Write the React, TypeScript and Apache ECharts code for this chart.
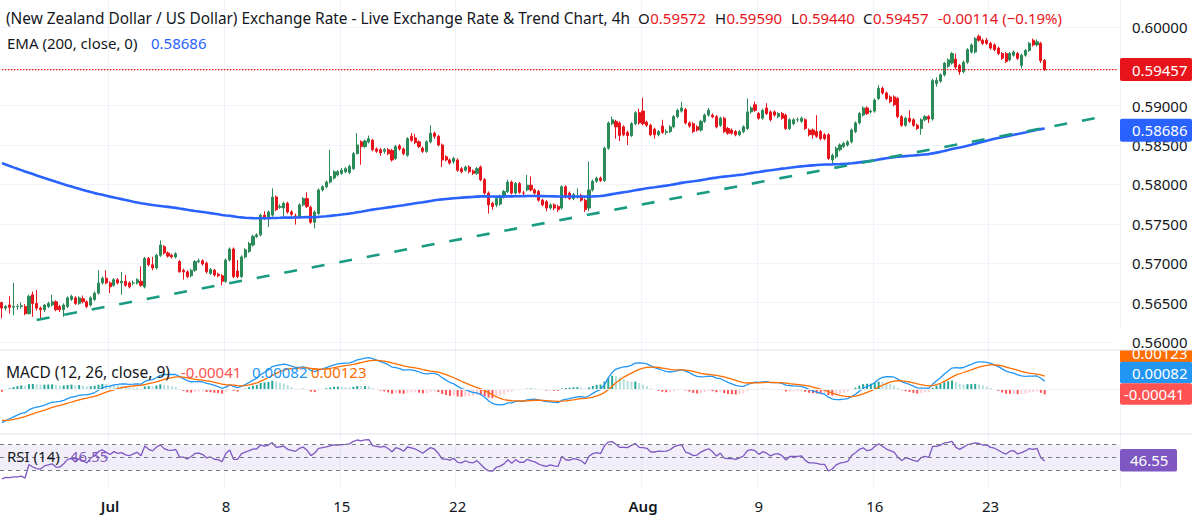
import React, { useEffect, useRef } from "react";
import * as echarts from "echarts";

// 4h bars, left to right: [open, high, low, close]
const ohlc: number[][] = [
  [0.5650, 0.5651, 0.5630, 0.5643], [0.5643, 0.5647, 0.5640, 0.5645], [0.5647, 0.5658, 0.5636, 0.5644], [0.5644, 0.5675, 0.5634, 0.5645],
  [0.5645, 0.5648, 0.5641, 0.5645], [0.5645, 0.5650, 0.5642, 0.5646], [0.5645, 0.5648, 0.5634, 0.5636], [0.5636, 0.5660, 0.5635, 0.5658],
  [0.5660, 0.5664, 0.5632, 0.5649], [0.5649, 0.5666, 0.5640, 0.5643], [0.5643, 0.5645, 0.5628, 0.5641], [0.5641, 0.5648, 0.5638, 0.5647],
  [0.5645, 0.5651, 0.5643, 0.5649], [0.5647, 0.5660, 0.5645, 0.5651], [0.5651, 0.5653, 0.5639, 0.5641], [0.5645, 0.5647, 0.5638, 0.5641],
  [0.5641, 0.5649, 0.5632, 0.5647], [0.5645, 0.5658, 0.5643, 0.5656], [0.5654, 0.5660, 0.5652, 0.5658], [0.5656, 0.5658, 0.5647, 0.5649],
  [0.5649, 0.5658, 0.5647, 0.5656], [0.5655, 0.5659, 0.5649, 0.5651], [0.5651, 0.5653, 0.5643, 0.5645], [0.5647, 0.5658, 0.5645, 0.5656],
  [0.5654, 0.5664, 0.5652, 0.5662], [0.5662, 0.5691, 0.5660, 0.5675], [0.5675, 0.5683, 0.5673, 0.5681], [0.5681, 0.5691, 0.5673, 0.5675],
  [0.5675, 0.5677, 0.5662, 0.5670], [0.5672, 0.5681, 0.5670, 0.5679], [0.5679, 0.5681, 0.5673, 0.5675], [0.5675, 0.5689, 0.5660, 0.5677],
  [0.5677, 0.5685, 0.5670, 0.5672], [0.5675, 0.5677, 0.5668, 0.5670], [0.5675, 0.5678, 0.5672, 0.5675], [0.5675, 0.5681, 0.5673, 0.5679],
  [0.5677, 0.5696, 0.5670, 0.5672], [0.5670, 0.5708, 0.5668, 0.5706], [0.5706, 0.5708, 0.5696, 0.5698], [0.5698, 0.5708, 0.5691, 0.5694],
  [0.5694, 0.5712, 0.5692, 0.5710], [0.5710, 0.5729, 0.5708, 0.5723], [0.5721, 0.5723, 0.5711, 0.5713], [0.5713, 0.5715, 0.5707, 0.5709],
  [0.5710, 0.5712, 0.5706, 0.5708], [0.5708, 0.5714, 0.5706, 0.5712], [0.5702, 0.5704, 0.5688, 0.5689], [0.5691, 0.5693, 0.5679, 0.5689],
  [0.5689, 0.5691, 0.5681, 0.5683], [0.5684, 0.5693, 0.5682, 0.5691], [0.5691, 0.5704, 0.5689, 0.5702], [0.5702, 0.5706, 0.5700, 0.5703],
  [0.5703, 0.5705, 0.5697, 0.5699], [0.5700, 0.5702, 0.5687, 0.5689], [0.5687, 0.5694, 0.5685, 0.5692], [0.5691, 0.5693, 0.5683, 0.5685],
  [0.5686, 0.5688, 0.5682, 0.5684], [0.5684, 0.5686, 0.5672, 0.5677], [0.5677, 0.5706, 0.5675, 0.5704], [0.5704, 0.5720, 0.5702, 0.5718],
  [0.5718, 0.5720, 0.5681, 0.5683], [0.5690, 0.5704, 0.5681, 0.5683], [0.5683, 0.5710, 0.5681, 0.5708], [0.5708, 0.5719, 0.5706, 0.5717],
  [0.5715, 0.5727, 0.5713, 0.5725], [0.5723, 0.5736, 0.5721, 0.5734], [0.5734, 0.5738, 0.5732, 0.5736], [0.5736, 0.5763, 0.5734, 0.5761],
  [0.5761, 0.5766, 0.5755, 0.5757], [0.5757, 0.5767, 0.5746, 0.5765], [0.5761, 0.5795, 0.5759, 0.5784], [0.5784, 0.5786, 0.5766, 0.5768],
  [0.5771, 0.5775, 0.5769, 0.5772], [0.5770, 0.5778, 0.5757, 0.5776], [0.5776, 0.5778, 0.5763, 0.5765], [0.5765, 0.5767, 0.5760, 0.5762],
  [0.5760, 0.5763, 0.5749, 0.5759], [0.5759, 0.5776, 0.5757, 0.5774], [0.5774, 0.5784, 0.5772, 0.5782], [0.5782, 0.5790, 0.5770, 0.5772],
  [0.5771, 0.5773, 0.5750, 0.5752], [0.5752, 0.5767, 0.5744, 0.5765], [0.5763, 0.5795, 0.5761, 0.5793], [0.5793, 0.5799, 0.5791, 0.5797],
  [0.5797, 0.5805, 0.5795, 0.5803], [0.5803, 0.5844, 0.5801, 0.5810], [0.5808, 0.5818, 0.5806, 0.5816], [0.5812, 0.5818, 0.5810, 0.5816],
  [0.5814, 0.5821, 0.5812, 0.5818], [0.5816, 0.5822, 0.5814, 0.5820], [0.5815, 0.5825, 0.5813, 0.5823], [0.5820, 0.5841, 0.5818, 0.5839],
  [0.5839, 0.5865, 0.5838, 0.5850], [0.5854, 0.5856, 0.5825, 0.5848], [0.5848, 0.5857, 0.5846, 0.5855], [0.5854, 0.5862, 0.5852, 0.5858],
  [0.5856, 0.5858, 0.5842, 0.5844], [0.5845, 0.5847, 0.5840, 0.5842], [0.5844, 0.5846, 0.5836, 0.5840], [0.5842, 0.5846, 0.5839, 0.5844],
  [0.5844, 0.5846, 0.5837, 0.5839], [0.5843, 0.5845, 0.5829, 0.5831], [0.5833, 0.5850, 0.5831, 0.5848], [0.5849, 0.5851, 0.5843, 0.5845],
  [0.5845, 0.5847, 0.5837, 0.5839], [0.5837, 0.5860, 0.5835, 0.5858], [0.5861, 0.5865, 0.5854, 0.5856], [0.5859, 0.5864, 0.5851, 0.5853],
  [0.5854, 0.5856, 0.5846, 0.5848], [0.5846, 0.5848, 0.5840, 0.5842], [0.5842, 0.5856, 0.5840, 0.5854], [0.5854, 0.5875, 0.5852, 0.5865],
  [0.5865, 0.5867, 0.5858, 0.5861], [0.5861, 0.5863, 0.5848, 0.5850], [0.5850, 0.5852, 0.5822, 0.5831], [0.5835, 0.5837, 0.5829, 0.5831],
  [0.5831, 0.5833, 0.5825, 0.5827], [0.5829, 0.5835, 0.5826, 0.5833], [0.5831, 0.5833, 0.5816, 0.5818], [0.5820, 0.5822, 0.5814, 0.5816],
  [0.5818, 0.5824, 0.5816, 0.5822], [0.5822, 0.5824, 0.5814, 0.5816], [0.5817, 0.5819, 0.5812, 0.5814], [0.5814, 0.5822, 0.5812, 0.5820],
  [0.5822, 0.5824, 0.5804, 0.5806], [0.5806, 0.5808, 0.5787, 0.5789], [0.5789, 0.5791, 0.5763, 0.5774], [0.5776, 0.5778, 0.5768, 0.5772],
  [0.5774, 0.5784, 0.5771, 0.5782], [0.5775, 0.5787, 0.5773, 0.5785], [0.5784, 0.5793, 0.5782, 0.5791], [0.5791, 0.5806, 0.5789, 0.5803],
  [0.5803, 0.5805, 0.5787, 0.5789], [0.5789, 0.5803, 0.5787, 0.5801], [0.5801, 0.5803, 0.5788, 0.5790], [0.5789, 0.5792, 0.5786, 0.5789],
  [0.5793, 0.5812, 0.5791, 0.5799], [0.5799, 0.5810, 0.5791, 0.5793], [0.5793, 0.5795, 0.5787, 0.5789], [0.5791, 0.5793, 0.5778, 0.5780],
  [0.5780, 0.5782, 0.5772, 0.5774], [0.5778, 0.5780, 0.5766, 0.5770], [0.5770, 0.5776, 0.5768, 0.5774], [0.5774, 0.5776, 0.5767, 0.5770],
  [0.5772, 0.5774, 0.5765, 0.5768], [0.5770, 0.5799, 0.5768, 0.5797], [0.5797, 0.5799, 0.5782, 0.5784], [0.5789, 0.5791, 0.5780, 0.5782],
  [0.5782, 0.5789, 0.5780, 0.5787], [0.5784, 0.5795, 0.5782, 0.5785], [0.5786, 0.5788, 0.5778, 0.5780], [0.5780, 0.5782, 0.5765, 0.5768],
  [0.5770, 0.5829, 0.5766, 0.5793], [0.5793, 0.5806, 0.5791, 0.5804], [0.5804, 0.5810, 0.5802, 0.5808], [0.5808, 0.5810, 0.5803, 0.5805],
  [0.5805, 0.5848, 0.5803, 0.5846], [0.5846, 0.5880, 0.5844, 0.5878], [0.5877, 0.5886, 0.5875, 0.5882], [0.5880, 0.5882, 0.5858, 0.5873],
  [0.5878, 0.5880, 0.5855, 0.5862], [0.5873, 0.5875, 0.5861, 0.5863], [0.5866, 0.5868, 0.5850, 0.5862], [0.5862, 0.5879, 0.5860, 0.5877],
  [0.5877, 0.5893, 0.5875, 0.5891], [0.5891, 0.5896, 0.5876, 0.5878], [0.5893, 0.5910, 0.5875, 0.5877], [0.5879, 0.5881, 0.5873, 0.5875],
  [0.5875, 0.5877, 0.5861, 0.5863], [0.5870, 0.5872, 0.5858, 0.5863], [0.5863, 0.5869, 0.5861, 0.5867], [0.5874, 0.5882, 0.5864, 0.5866],
  [0.5866, 0.5870, 0.5863, 0.5867], [0.5867, 0.5875, 0.5865, 0.5873], [0.5873, 0.5888, 0.5871, 0.5886], [0.5886, 0.5896, 0.5884, 0.5894],
  [0.5893, 0.5905, 0.5891, 0.5897], [0.5895, 0.5897, 0.5876, 0.5878], [0.5878, 0.5880, 0.5872, 0.5874], [0.5877, 0.5879, 0.5865, 0.5867],
  [0.5873, 0.5875, 0.5867, 0.5869], [0.5869, 0.5882, 0.5867, 0.5880], [0.5880, 0.5890, 0.5878, 0.5888], [0.5888, 0.5897, 0.5886, 0.5894],
  [0.5888, 0.5890, 0.5884, 0.5886], [0.5886, 0.5888, 0.5871, 0.5873], [0.5875, 0.5886, 0.5873, 0.5884], [0.5884, 0.5886, 0.5865, 0.5867],
  [0.5871, 0.5873, 0.5863, 0.5865], [0.5869, 0.5871, 0.5863, 0.5865], [0.5867, 0.5869, 0.5861, 0.5863], [0.5863, 0.5869, 0.5861, 0.5867],
  [0.5867, 0.5875, 0.5865, 0.5873], [0.5871, 0.5909, 0.5869, 0.5892], [0.5892, 0.5899, 0.5890, 0.5897], [0.5901, 0.5905, 0.5892, 0.5894],
  [0.5890, 0.5892, 0.5882, 0.5884], [0.5884, 0.5896, 0.5882, 0.5894], [0.5897, 0.5903, 0.5888, 0.5890], [0.5892, 0.5894, 0.5880, 0.5882],
  [0.5892, 0.5894, 0.5886, 0.5888], [0.5886, 0.5892, 0.5884, 0.5890], [0.5890, 0.5892, 0.5882, 0.5884], [0.5888, 0.5890, 0.5869, 0.5871],
  [0.5871, 0.5884, 0.5869, 0.5882], [0.5877, 0.5884, 0.5875, 0.5882], [0.5882, 0.5885, 0.5879, 0.5882], [0.5880, 0.5886, 0.5878, 0.5884],
  [0.5882, 0.5884, 0.5869, 0.5871], [0.5869, 0.5871, 0.5861, 0.5863], [0.5869, 0.5871, 0.5858, 0.5863], [0.5867, 0.5888, 0.5859, 0.5861],
  [0.5867, 0.5869, 0.5856, 0.5858], [0.5863, 0.5865, 0.5856, 0.5858], [0.5863, 0.5865, 0.5831, 0.5833], [0.5831, 0.5839, 0.5825, 0.5837],
  [0.5835, 0.5848, 0.5833, 0.5846], [0.5844, 0.5852, 0.5842, 0.5850], [0.5848, 0.5854, 0.5846, 0.5852], [0.5850, 0.5856, 0.5848, 0.5854],
  [0.5854, 0.5871, 0.5852, 0.5869], [0.5867, 0.5880, 0.5865, 0.5878], [0.5878, 0.5892, 0.5876, 0.5890], [0.5888, 0.5899, 0.5886, 0.5897],
  [0.5897, 0.5899, 0.5888, 0.5890], [0.5892, 0.5895, 0.5890, 0.5893], [0.5893, 0.5909, 0.5891, 0.5907], [0.5909, 0.5926, 0.5907, 0.5922],
  [0.5922, 0.5924, 0.5914, 0.5916], [0.5916, 0.5918, 0.5907, 0.5909], [0.5911, 0.5913, 0.5903, 0.5905], [0.5911, 0.5913, 0.5899, 0.5901],
  [0.5909, 0.5911, 0.5884, 0.5886], [0.5886, 0.5888, 0.5873, 0.5875], [0.5875, 0.5886, 0.5873, 0.5884], [0.5884, 0.5894, 0.5878, 0.5880],
  [0.5882, 0.5884, 0.5873, 0.5875], [0.5875, 0.5877, 0.5869, 0.5871], [0.5871, 0.5884, 0.5863, 0.5882], [0.5882, 0.5888, 0.5880, 0.5886],
  [0.5886, 0.5888, 0.5878, 0.5883], [0.5883, 0.5934, 0.5881, 0.5932], [0.5928, 0.5936, 0.5924, 0.5932], [0.5931, 0.5941, 0.5929, 0.5939],
  [0.5939, 0.5955, 0.5937, 0.5954], [0.5950, 0.5960, 0.5948, 0.5958], [0.5954, 0.5968, 0.5952, 0.5966], [0.5959, 0.5966, 0.5946, 0.5949],
  [0.5951, 0.5953, 0.5939, 0.5943], [0.5943, 0.5957, 0.5941, 0.5955], [0.5955, 0.5973, 0.5953, 0.5971], [0.5968, 0.5979, 0.5966, 0.5977],
  [0.5968, 0.5987, 0.5966, 0.5985], [0.5988, 0.5990, 0.5981, 0.5983], [0.5983, 0.5985, 0.5977, 0.5979], [0.5983, 0.5986, 0.5977, 0.5979],
  [0.5979, 0.5981, 0.5971, 0.5973], [0.5977, 0.5979, 0.5969, 0.5971], [0.5973, 0.5975, 0.5964, 0.5966], [0.5966, 0.5968, 0.5958, 0.5960],
  [0.5966, 0.5968, 0.5954, 0.5956], [0.5958, 0.5968, 0.5956, 0.5966], [0.5964, 0.5970, 0.5962, 0.5968], [0.5966, 0.5968, 0.5958, 0.5960],
  [0.5951, 0.5966, 0.5947, 0.5964], [0.5964, 0.5972, 0.5962, 0.5970], [0.5970, 0.5981, 0.5968, 0.5979], [0.5983, 0.5985, 0.5975, 0.5977],
  [0.5977, 0.5984, 0.5975, 0.5981], [0.5979, 0.5981, 0.5954, 0.5957], [0.59572, 0.5959, 0.5944, 0.59457],
];

const slotCount = 290;
const tickIndex = [28, 58, 88, 118, 166, 196, 226, 256];
const tickLabels = ["Jul", "8", "15", "22", "Aug", "9", "16", "23"];
const monthLabels = ["Jul", "Aug"];

const priceMin = 0.555;
const priceMax = 0.6034;
const priceStep = 0.005;

const emaStart = 0.5827;
const macdFastStart = 0.565;
const macdSlowStart = 0.5679;
const macdSignalStart = -0.0027;
const rsiGainStart = 0.0001;
const rsiLossStart = 0.0005;

const trendLine = [[9, 0.5628], [283, 0.5884]];
const lastClose = 0.59457;
const rsiLevels = [70, 50, 30];

const headerTitle = "(New Zealand Dollar / US Dollar) Exchange Rate - Live Exchange Rate & Trend Chart, 4h";
const ohlcLegend = [["O", "0.59572"], ["H", "0.59590"], ["L", "0.59440"], ["C", "0.59457"]];
const changeLegend = "-0.00114 (\u22120.19%)";
const emaLegend = ["EMA (200, close, 0)", "0.58686"];
const macdLegend = ["MACD (12, 26, close, 9)", "-0.00041", "0.00082", "0.00123"];
const rsiLegend = ["RSI (14)", "46.55"];
const emaTag = "0.58686";
const macdTags = ["0.00123", "0.00082", "-0.00041"];
const rsiTag = "46.55";
const bottomPriceLabel = "0.56000";

const FONT = "'Noto Sans', sans-serif";
const FS = 15;
const DARK = "#131722";
const RED = "#e8141b";
const GREEN = "#2b8a57";
const BLUE = "#2962ff";

const MAIN_H = 381.4;

export default function App() {
  const ref = useRef<HTMLDivElement>(null);

  useEffect(() => {
    if (!ref.current) return;
    const chart = echarts.init(ref.current, null, { renderer: "svg" });

    const closes = ohlc.map((r) => r[3]);
    // EMA 200
    const ema: number[] = [];
    let e = emaStart;
    closes.forEach((c, i) => {
      if (i > 0) e += (2 / 201) * (c - e);
      ema.push(e);
    });
    // MACD 12/26/9
    const macd: number[] = [];
    const signal: number[] = [];
    const hist: number[] = [];
    let f = macdFastStart, s = macdSlowStart, sig = macdSignalStart;
    closes.forEach((c, i) => {
      if (i > 0) {
        f += (2 / 13) * (c - f);
        s += (2 / 27) * (c - s);
      }
      const m = f - s;
      if (i > 0) sig += (2 / 10) * (m - sig);
      macd.push(m);
      signal.push(sig);
      hist.push(m - sig);
    });
    const histData = hist.map((h, i) => {
      const prev = i > 0 ? hist[i - 1] : h;
      const color = h >= 0 ? (h >= prev ? "#26a69a" : "#b2dfdb") : (h <= prev ? "#ff5252" : "#ffcdd2");
      return { value: h, itemStyle: { color } };
    });
    // RSI 14
    const rsi: number[] = [];
    let g = rsiGainStart, l = rsiLossStart;
    closes.forEach((c, i) => {
      if (i > 0) {
        const d = c - closes[i - 1];
        g = (g * 13 + Math.max(d, 0)) / 14;
        l = (l * 13 + Math.max(-d, 0)) / 14;
      }
      rsi.push(100 - 100 / (1 + g / l));
    });

    const tickSet = new Set(tickIndex);
    const categories = Array.from({ length: slotCount }, (_, i) => {
      const k = tickIndex.indexOf(i);
      return k >= 0 ? tickLabels[k] : "";
    });

    const canvas = document.createElement("canvas");
    const ctx = canvas.getContext("2d")!;
    const measure = (t: string, size = FS) => {
      ctx.font = `${size}px 'Noto Sans', sans-serif`;
      return ctx.measureText(t).width;
    };

    const text = (x: number, y: number, t: string, fill: string, size = FS, extra: any = {}) => ({
      type: "text",
      x,
      y,
      z: 100,
      silent: true,
      style: {
        text: t,
        fill,
        font: `${size}px ${FONT}`,
        textAlign: "left",
        textVerticalAlign: "middle",
        align: "left",
        verticalAlign: "middle",
        ...extra,
      },
    });

    const graphics: any[] = [];
    graphics.push(text(6, 18, headerTitle, DARK, 15.4));
    const ohlcX = [638, 715, 791, 863];
    ohlcLegend.forEach(([k, v], i) => {
      graphics.push(text(ohlcX[i], 18, k, DARK));
      graphics.push(text(ohlcX[i] + measure(k) + 0.5, 18, v, RED));
    });
    graphics.push(text(938, 18, changeLegend, RED));
    graphics.push(text(7, 43, emaLegend[0], DARK));
    graphics.push(text(151, 43, emaLegend[1], BLUE));

    graphics.push(text(6, 372, macdLegend[0], DARK, 15.5));
    graphics.push(text(181, 372, macdLegend[1], "#ff5252"));
    graphics.push(text(252, 372, macdLegend[2], "#2196f3"));
    graphics.push(text(311, 372, macdLegend[3], "#ff6d00"));

    graphics.push(text(7, 456, rsiLegend[0], DARK));
    graphics.push(text(70, 456, rsiLegend[1], "#7e57c2"));

    const tag = (y: number, h: number, w: number, fill: string, t: string, tx = 1132) => {
      graphics.push({ type: "rect", z: 100, silent: true, shape: { x: 1120, y: y - h / 2, width: w, height: h, r: 2 }, style: { fill } });
      graphics.push(text(tx, y, t, "#ffffff"));
    };
    const py = (p: number) => ((priceMax - p) / (priceMax - priceMin)) * MAIN_H;
    // price tags
    tag(py(lastClose), 23, 72, RED, lastClose.toFixed(5));
    tag(py(0.58686), 23, 72, BLUE, emaTag);
    // MACD tags
    tag(352.5, 21, 72, "#ff6d00", macdTags[0]);
    graphics.push({ type: "rect", z: 100, silent: true, shape: { x: 1112, y: 328, width: 80, height: 22 }, style: { fill: "#ffffff" } });
    graphics.push(text(1132, py(0.56), bottomPriceLabel, DARK));
    tag(372.5, 21.5, 72, "#2196f3", macdTags[1]);
    tag(394, 21.5, 72, "#ff5252", macdTags[2], 1124);
    // RSI tag
    tag(460.3, 22.5, 57, "#7e57c2", rsiTag, 1130);

    // pane separators
    [350, 434].forEach((y) => {
      graphics.push({ type: "line", z: 101, silent: true, shape: { x1: 0, y1: y, x2: 1192, y2: y }, style: { stroke: "#e0e3eb", lineWidth: 1 } });
    });

    const xAxisBase = (gridIndex: number, showLabels: boolean) => ({
      type: "category",
      gridIndex,
      data: categories,
      boundaryGap: true,
      axisLine: { show: false },
      axisTick: { show: false },
      axisLabel: showLabels
        ? {
            interval: (idx: number) => tickSet.has(idx),
            color: DARK,
            fontSize: FS,
            fontFamily: FONT,
            margin: 10,
            formatter: (v: string) => (monthLabels.includes(v) ? `{m|${v}}` : v),
            rich: { m: { fontWeight: 600, fontSize: FS, fontFamily: FONT, color: DARK } },
          }
        : { show: false },
      splitLine: {
        show: true,
        interval: (idx: number) => tickSet.has(idx),
        lineStyle: { color: "#f0f3fa", width: 1 },
      },
    });

    const option: any = {
      animation: false,
      backgroundColor: "#ffffff",
      textStyle: { fontFamily: FONT },
      grid: [
        { left: 0, top: 0, width: 1120, height: MAIN_H },
        { left: 0, top: 350, width: 1120, height: 84 },
        { left: 0, top: 434, width: 1120, height: 54 },
      ],
      xAxis: [xAxisBase(0, false), xAxisBase(1, false), xAxisBase(2, true)],
      yAxis: [
        {
          type: "value",
          gridIndex: 0,
          position: "right",
          min: priceMin,
          max: priceMax,
          interval: priceStep,
          axisLine: { show: false },
          axisTick: { show: false },
          axisLabel: {
            color: DARK,
            fontSize: FS,
            fontFamily: FONT,
            margin: 12,
            align: "left",
            formatter: (v: number) =>
              v < 0.5601 || v > 0.6001 || Math.abs(v - 0.595) < 1e-4 ? "" : v.toFixed(5),
          },
          splitLine: { show: true, showMinLine: false, showMaxLine: false, lineStyle: { color: "#f0f3fa", width: 1 } },
        },
        {
          type: "value",
          gridIndex: 1,
          position: "right",
          min: -0.0039,
          max: 0.00347,
          axisLine: { show: false },
          axisTick: { show: false },
          axisLabel: { show: false },
          splitLine: { show: false },
        },
        {
          type: "value",
          gridIndex: 2,
          position: "right",
          min: 2.3,
          max: 86.7,
          axisLine: { show: false },
          axisTick: { show: false },
          axisLabel: { show: false },
          splitLine: { show: false },
        },
      ],
      series: [
        {
          type: "line",
          xAxisIndex: 0,
          yAxisIndex: 0,
          data: [[0, lastClose], [slotCount - 1, lastClose]],
          symbol: "none",
          silent: true,
          lineStyle: { color: "#f0101a", type: [1.5, 1.5], width: 1.2 },
        },
        {
          type: "candlestick",
          xAxisIndex: 0,
          yAxisIndex: 0,
          barWidth: 2.6,
          data: ohlc.map((r) => [r[0], r[3], r[2], r[1]]),
          itemStyle: { color: GREEN, color0: RED, borderColor: GREEN, borderColor0: RED, borderWidth: 1 },
        },
        {
          type: "line",
          xAxisIndex: 0,
          yAxisIndex: 0,
          data: ema,
          symbol: "none",
          lineStyle: { color: BLUE, width: 2.6 },
        },
        {
          type: "line",
          xAxisIndex: 0,
          yAxisIndex: 0,
          data: trendLine,
          symbol: "none",
          lineStyle: { color: "#189b80", width: 2.6, type: [13, 15] },
        },
        {
          type: "bar",
          xAxisIndex: 1,
          yAxisIndex: 1,
          barWidth: 2,
          data: histData,
          markLine: {
            silent: true,
            symbol: ["none", "none"],
            label: { show: false },
            lineStyle: { color: "#eef0f5", type: "solid", width: 1 },
            data: [{ yAxis: 0 }],
          },
        },
        {
          type: "line",
          xAxisIndex: 1,
          yAxisIndex: 1,
          data: macd,
          symbol: "none",
          lineStyle: { color: "#2196f3", width: 1.3 },
        },
        {
          type: "line",
          xAxisIndex: 1,
          yAxisIndex: 1,
          data: signal,
          symbol: "none",
          lineStyle: { color: "#ff6d00", width: 1.3 },
        },
        {
          type: "line",
          xAxisIndex: 2,
          yAxisIndex: 2,
          data: rsi,
          symbol: "none",
          lineStyle: { color: "#7e57c2", width: 1.3 },
          markArea: {
            silent: true,
            itemStyle: { color: "rgba(126,87,194,0.1)" },
            data: [[{ yAxis: rsiLevels[2] }, { yAxis: rsiLevels[0] }]],
          },
          markLine: {
            silent: true,
            symbol: ["none", "none"],
            label: { show: false },
            lineStyle: { color: "#787b86", type: [4, 4], width: 1 },
            data: rsiLevels.map((v) => ({ yAxis: v })),
          },
        },
      ],
      graphic: { elements: graphics },
    };

    chart.setOption(option);
    return () => chart.dispose();
  }, []);

  return (
    <div
      ref={ref}
      style={{ position: "fixed", left: 0, top: 0, width: 1192, height: 523, background: "#ffffff" }}
    />
  );
}
